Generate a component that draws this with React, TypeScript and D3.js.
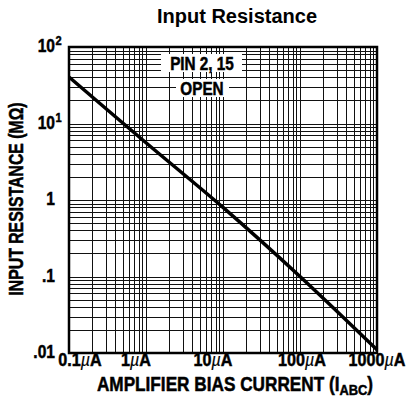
import React, { useRef, useEffect } from 'react';
import * as d3 from 'd3';

// curve (µA -> MΩ)
const currentUA = [0.1, 1, 10, 100, 1000];
const resistanceMOhm = [40.5, 5.6, 0.8, 0.1, 0.011];

const xTicks = [0.1, 1, 10, 100, 1000];
const xTickLabels = ['0.1', '1', '10', '100', '1000'];
const yTicks = [100, 10, 1, 0.1, 0.01];
const yTickLabels = [['10', '2'], ['10', '1'], ['1', ''], ['.1', ''], ['.01', '']];

const W = 409;
const H = 420;
const font = '"Liberation Sans", Arial, Helvetica, sans-serif';

const App = () => {
  const svgRef = useRef<SVGSVGElement>(null);

  useEffect(() => {
    const svg = d3.select(svgRef.current);
    svg.selectAll('*').remove();

    const left = 69, right = 377, top = 47, bottom = 353;

    const x = d3.scaleLog().domain([0.1, 1000]).range([left, right]);
    const y = d3.scaleLog().domain([0.01, 100]).range([bottom, top]);

    // condensed heavy text: a horizontal squeeze stands in for Helvetica Condensed
    const label = (px: number, py: number, size: number, sx: number, anchor: string, rot = 0) =>
      svg.append('text')
        .attr('transform', `translate(${px},${py}) rotate(${rot}) scale(${sx},1)`)
        .attr('text-anchor', anchor)
        .attr('font-family', font)
        .attr('font-weight', 'bold')
        .attr('font-size', size)
        .attr('fill', '#000')
        .attr('stroke', '#000')
        .attr('stroke-width', 0.5);

    // grid values: 1..9 per decade
    const xGrid: number[] = [];
    for (let e = -1; e < 3; e++) for (let k = 1; k < 10; k++) xGrid.push(k * Math.pow(10, e));
    const yGrid: number[] = [];
    for (let e = -2; e < 2; e++) for (let k = 1; k < 10; k++) yGrid.push(k * Math.pow(10, e));

    const grid = svg.append('g').attr('stroke', '#111').attr('shape-rendering', 'crispEdges');
    grid.selectAll('line.v').data(xGrid).enter().append('line')
      .attr('x1', d => Math.round(x(d)) + 0.5).attr('x2', d => Math.round(x(d)) + 0.5)
      .attr('y1', top).attr('y2', bottom)
      .attr('stroke-width', 1);
    grid.selectAll('line.h').data(yGrid).enter().append('line')
      .attr('y1', d => Math.round(y(d)) + 0.5).attr('y2', d => Math.round(y(d)) + 0.5)
      .attr('x1', left).attr('x2', right)
      .attr('stroke-width', 1);

    // the curve
    const pts = currentUA.map((c, i) => [c, resistanceMOhm[i]] as [number, number]);
    svg.append('path')
      .datum(pts)
      .attr('fill', 'none')
      .attr('stroke', '#000')
      .attr('stroke-width', 3.5)
      .attr('d', d3.line<[number, number]>().x(d => x(d[0])).y(d => y(d[1])).curve(d3.curveCatmullRom));

    // frame
    svg.append('rect')
      .attr('x', left).attr('y', top)
      .attr('width', right - left).attr('height', bottom - top)
      .attr('fill', 'none').attr('stroke', '#000').attr('stroke-width', 2.5);

    // annotation
    svg.append('rect').attr('x', 161).attr('y', 54).attr('width', 81).attr('height', 18).attr('fill', '#fff');
    svg.append('rect').attr('x', 176).attr('y', 79).attr('width', 53).attr('height', 18).attr('fill', '#fff');
    label(202, 70, 18, 0.85, 'middle').text('PIN 2, 15');
    label(202, 95, 18, 0.85, 'middle').text('OPEN');

    // title
    svg.append('text').attr('x', 237).attr('y', 23).attr('text-anchor', 'middle')
      .attr('font-family', font).attr('font-weight', 'bold').attr('font-size', 20)
      .text('Input Resistance');

    // y tick labels: base text ends at x=55, exponent sits after it
    yTicks.forEach((v, i) => {
      label(55, y(v) + 5, 19, 0.82, 'end').text(yTickLabels[i][0]);
      if (yTickLabels[i][1]) label(55.5, y(v) - 2, 13, 0.85, 'start').text(yTickLabels[i][1]);
    });

    // x tick labels
    const xLabelPos = [80, 136, 213, 302, 377];
    xTicks.forEach((v, i) => {
      const t = label(xLabelPos[i], 366, 19, 0.85, 'middle');
      t.append('tspan').text(xTickLabels[i]);
      t.append('tspan').attr('font-style', 'italic').attr('font-weight', 'normal').attr('stroke-width', 0.2).text('µ');
      t.append('tspan').text('A');
    });

    // x axis title
    const xt = label(235, 391, 20, 0.86, 'middle');
    xt.append('tspan').text('AMPLIFIER BIAS CURRENT (I');
    xt.append('tspan').attr('dy', 4).attr('font-size', 15).text('ABC');
    xt.append('tspan').attr('dy', -4).text(')');

    // y axis title
    label(23, 199, 20, 0.79, 'middle', -90).text('INPUT RESISTANCE (MΩ)');
  }, []);

  return (
    <svg ref={svgRef} width={W} height={H} style={{ position: 'absolute', left: 0, top: 0, background: '#fff' }} />
  );
};

export default App;
